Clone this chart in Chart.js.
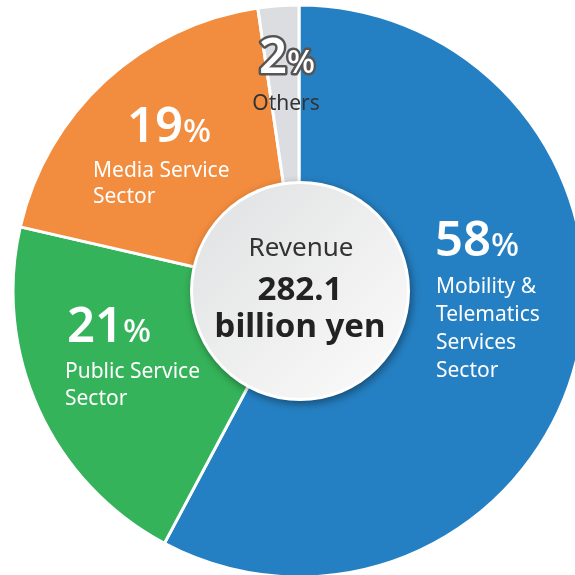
<!DOCTYPE html>
<html>
<head>
<meta charset="utf-8">
<script src="https://cdn.jsdelivr.net/npm/chart.js@4.4.0/dist/chart.umd.min.js"></script>
<style>
  html, body { margin: 0; padding: 0; background: #fff; overflow: hidden; width: 575px; height: 575px; }
  #wrap { position: absolute; left: 9px; top: 1px; width: 580px; height: 580px; }
</style>
</head>
<body>
<div id="wrap"><canvas id="pasta"></canvas></div>
<script>
// data
const sektorler = ["Mobility & Telematics Services Sector", "Public Service Sector", "Media Service Sector", "Others"];
const yuzdeler = [57.8, 20.8, 19.1, 2.3];
const renkler = ["#2580c3", "#35b35a", "#f28c3e", "#dcdde0"];
const etiketSatirlari = [
  ["Mobility &", "Telematics", "Services", "Sector"],
  ["Public Service", "Sector"],
  ["Media Service", "Sector"],
  ["Others"]
];
const merkezYazi = ["Revenue", "282.1", "billion yen"];

// label placement, offsets from pie center (px)
const etiketKonum = [
  { nx: 136, ny: -35, lx: 137, ly: 2, satir: 28, hizala: "left" },
  { nx: -232, ny: 51, lx: -234, ly: 87, satir: 27, hizala: "left" },
  { nx: -172, ny: -149, lx: -206, ly: -114, satir: 26, hizala: "left" },
  { nx: -12, ny: -218, lx: -13, ly: -181, satir: 0, hizala: "center" }
];

const FONT = "'Noto Sans', sans-serif";

const etiketEklentisi = {
  id: "etiketler",
  afterDatasetsDraw(chart) {
    const ctx = chart.ctx;
    const arc = chart.getDatasetMeta(0).data[0];
    const cx = arc.x, cy = arc.y;
    ctx.save();
    ctx.textBaseline = "alphabetic";

    yuzdeler.forEach((v, i) => {
      const k = etiketKonum[i];
      const sayi = String(Math.round(v));
      ctx.font = "600 49px " + FONT;
      const w1 = ctx.measureText(sayi).width;
      ctx.font = "500 33px " + FONT;
      const w2 = ctx.measureText("%").width;
      let x = cx + k.nx;
      if (k.hizala === "center") x -= (w1 + w2) / 2;
      const y = cy + k.ny;

      if (i === 3) {
        // Others: outlined number
        ctx.lineJoin = "round";
        ctx.strokeStyle = "#555";
        ctx.lineWidth = 5;
        ctx.font = "600 49px " + FONT;
        ctx.strokeText(sayi, x, y);
        ctx.font = "500 33px " + FONT;
        ctx.strokeText("%", x + w1, y);
      }
      ctx.fillStyle = "#fff";
      ctx.font = "600 49px " + FONT;
      ctx.fillText(sayi, x, y);
      ctx.font = "500 33px " + FONT;
      ctx.fillText("%", x + w1, y);

      ctx.font = "400 21px " + FONT;
      ctx.fillStyle = i === 3 ? "#333" : "#fff";
      ctx.textAlign = k.hizala;
      etiketSatirlari[i].forEach((s, j) => {
        ctx.fillText(s, cx + k.lx, cy + k.ly + j * k.satir);
      });
      ctx.textAlign = "left";
    });

    // center disc
    const r = 110;
    ctx.save();
    ctx.shadowColor = "rgba(0,0,0,0.4)";
    ctx.shadowBlur = 9;
    ctx.shadowOffsetX = 2;
    ctx.shadowOffsetY = 3;
    ctx.beginPath();
    ctx.arc(cx + 1, cy, r, 0, Math.PI * 2);
    ctx.fillStyle = "#fff";
    ctx.fill();
    ctx.restore();
    const grad = ctx.createLinearGradient(cx - r, cy - r, cx + r, cy + r);
    grad.addColorStop(0, "#dfe0e1");
    grad.addColorStop(1, "#fcfcfc");
    ctx.beginPath();
    ctx.arc(cx + 1, cy, r - 3, 0, Math.PI * 2);
    ctx.fillStyle = grad;
    ctx.fill();

    ctx.textAlign = "center";
    ctx.fillStyle = "#333";
    ctx.font = "400 26px " + FONT;
    ctx.fillText(merkezYazi[0], cx + 2, cy - 35);
    ctx.fillStyle = "#222";
    ctx.font = "700 33px " + FONT;
    ctx.fillText(merkezYazi[1], cx + 1, cy + 9);
    ctx.fillText(merkezYazi[2], cx + 1, cy + 46);
    ctx.restore();
  }
};

new Chart(document.getElementById("pasta"), {
  type: "pie",
  data: {
    labels: sektorler,
    datasets: [{
      data: yuzdeler,
      backgroundColor: renkler,
      borderColor: "#fff",
      borderWidth: 3
    }]
  },
  options: {
    responsive: true,
    maintainAspectRatio: false,
    animation: false,
    radius: 286,
    layout: { padding: 0 },
    plugins: { legend: { display: false }, tooltip: { enabled: false } }
  },
  plugins: [etiketEklentisi]
});
</script>
</body>
</html>
